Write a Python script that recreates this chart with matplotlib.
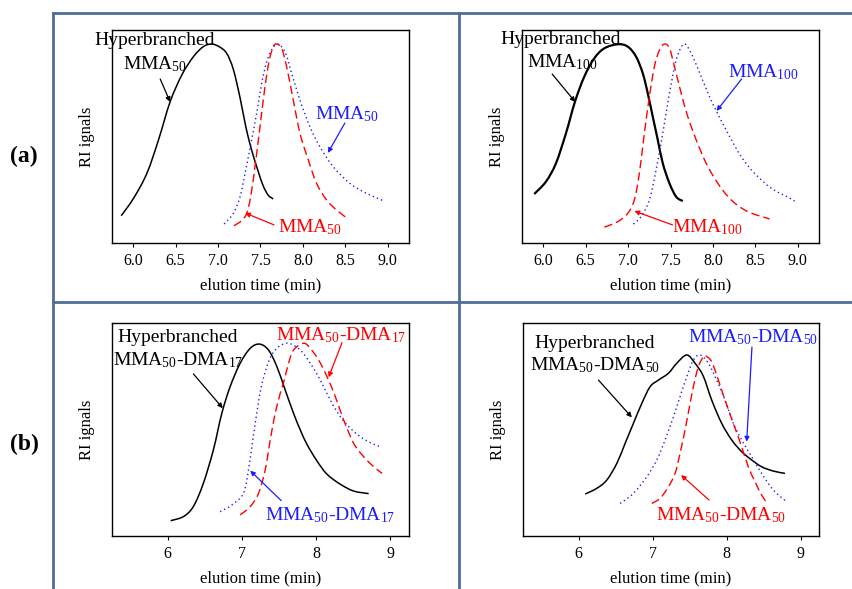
import matplotlib
matplotlib.use("Agg")
import matplotlib.pyplot as plt
from matplotlib.lines import Line2D
from matplotlib.path import Path
from matplotlib.patches import PathPatch

plt.rcParams["font.family"] = ["Liberation Serif", "DejaVu Serif"]
plt.rcParams["mathtext.fontset"] = "custom"
plt.rcParams["mathtext.rm"] = "Liberation Serif"
plt.rcParams["mathtext.it"] = "Liberation Serif:italic"
plt.rcParams["mathtext.bf"] = "Liberation Serif:bold"

# ---------------- data: elution time (min) vs. normalised RI signal ----------------
# (a) left: MMA50
a1_hb_t = [5.859, 6.004, 6.161, 6.298, 6.435, 6.573, 6.710, 6.827, 6.926, 7.020,
           7.102, 7.180, 7.260, 7.330, 7.400, 7.470, 7.530, 7.590, 7.650]
a1_hb_s = [0.128, 0.210, 0.327, 0.484, 0.663, 0.789, 0.875, 0.922, 0.934, 0.920,
           0.890, 0.815, 0.680, 0.540, 0.430, 0.340, 0.270, 0.225, 0.207]
a1_dot_t = [7.071, 7.180, 7.259, 7.318, 7.376, 7.455, 7.514, 7.573, 7.631, 7.698,
            7.788, 7.867, 7.965, 8.082, 8.200, 8.357, 8.553, 8.749, 8.945]
a1_dot_s = [0.089, 0.139, 0.217, 0.327, 0.444, 0.609, 0.750, 0.851, 0.906, 0.934,
            0.898, 0.797, 0.671, 0.546, 0.452, 0.358, 0.280, 0.233, 0.199]
a1_dash_t = [7.188, 7.278, 7.337, 7.384, 7.435, 7.494, 7.553, 7.604, 7.651, 7.690,
             7.749, 7.808, 7.886, 7.965, 8.063, 8.161, 8.279, 8.396, 8.533]
a1_dash_s = [0.081, 0.105, 0.139, 0.217, 0.358, 0.546, 0.734, 0.859, 0.922, 0.934,
             0.914, 0.828, 0.671, 0.515, 0.390, 0.280, 0.202, 0.155, 0.113]

# (a) right: MMA100
a2_hb_t = [5.894, 6.032, 6.150, 6.268, 6.374, 6.484, 6.602, 6.720, 6.878, 6.996,
           7.094, 7.173, 7.232, 7.291, 7.350, 7.409, 7.488, 7.567, 7.645]
a2_hb_s = [0.230, 0.288, 0.374, 0.515, 0.663, 0.781, 0.867, 0.914, 0.933, 0.922,
           0.875, 0.797, 0.703, 0.593, 0.484, 0.374, 0.280, 0.217, 0.197]
a2_dash_t = [6.720, 6.878, 6.996, 7.074, 7.133, 7.192, 7.251, 7.310, 7.370, 7.429,
             7.488, 7.547, 7.626, 7.704, 7.803, 7.921, 8.058, 8.216, 8.412, 8.668]
a2_dash_s = [0.074, 0.100, 0.139, 0.202, 0.327, 0.515, 0.687, 0.828, 0.906, 0.934,
             0.914, 0.828, 0.703, 0.593, 0.484, 0.374, 0.280, 0.202, 0.147, 0.113]
a2_dot_t = [7.063, 7.153, 7.251, 7.330, 7.409, 7.488, 7.567, 7.657, 7.744, 7.862,
            7.960, 8.039, 8.176, 8.334, 8.491, 8.688, 8.884, 8.963]
a2_dot_s = [0.089, 0.124, 0.202, 0.343, 0.515, 0.703, 0.859, 0.934, 0.890, 0.781,
            0.687, 0.621, 0.515, 0.405, 0.327, 0.257, 0.215, 0.197]

# (b) left: MMA50-DMA17
b1_hb_t = [6.040, 6.211, 6.345, 6.480, 6.615, 6.729, 6.841, 6.976, 7.111, 7.236,
           7.358, 7.471, 7.583, 7.695, 7.786, 7.876, 8.011, 8.146, 8.325, 8.505, 8.707]
b1_hb_s = [0.072, 0.091, 0.138, 0.247, 0.404, 0.576, 0.701, 0.811, 0.881, 0.901,
           0.873, 0.795, 0.685, 0.576, 0.498, 0.430, 0.352, 0.290, 0.243, 0.211, 0.199]
b1_dot_t = [6.706, 6.864, 7.020, 7.088, 7.150, 7.210, 7.260, 7.330, 7.400, 7.500,
            7.628, 7.785, 7.920, 8.055, 8.190, 8.325, 8.460, 8.595, 8.730, 8.865]
b1_dot_s = [0.114, 0.146, 0.200, 0.310, 0.460, 0.600, 0.700, 0.790, 0.850, 0.890,
            0.905, 0.873, 0.811, 0.732, 0.638, 0.560, 0.506, 0.466, 0.438, 0.419]
b1_dash_t = [6.976, 7.111, 7.223, 7.313, 7.381, 7.448, 7.516, 7.570, 7.628, 7.695,
             7.830, 7.920, 8.033, 8.146, 8.258, 8.370, 8.505, 8.640, 8.775, 8.888]
b1_dash_s = [0.099, 0.138, 0.200, 0.310, 0.451, 0.576, 0.670, 0.732, 0.811, 0.873,
             0.905, 0.881, 0.826, 0.748, 0.654, 0.545, 0.435, 0.372, 0.325, 0.294]

# (b) right: MMA50-DMA50
b2_hb_t = [6.090, 6.248, 6.383, 6.518, 6.630, 6.742, 6.856, 6.968, 7.080, 7.215,
           7.328, 7.463, 7.575, 7.687, 7.800, 7.935, 8.070, 8.205, 8.340, 8.475,
           8.632, 8.790]
b2_hb_s = [0.197, 0.224, 0.263, 0.341, 0.435, 0.529, 0.623, 0.701, 0.732, 0.764,
           0.811, 0.850, 0.811, 0.750, 0.638, 0.529, 0.451, 0.396, 0.357, 0.325,
           0.305, 0.294]
b2_dot_t = [6.563, 6.742, 6.923, 7.058, 7.170, 7.283, 7.372, 7.463, 7.553, 7.642,
            7.755, 7.867, 7.980, 8.092, 8.205, 8.340, 8.475, 8.632, 8.812]
b2_dot_s = [0.153, 0.200, 0.278, 0.357, 0.451, 0.560, 0.654, 0.748, 0.826, 0.850,
            0.811, 0.732, 0.638, 0.529, 0.451, 0.372, 0.294, 0.216, 0.161]
b2_dash_t = [6.990, 7.103, 7.215, 7.305, 7.372, 7.440, 7.508, 7.562, 7.620, 7.687,
             7.720, 7.800, 7.890, 7.980, 8.092, 8.205, 8.295, 8.385, 8.475, 8.551]
b2_dash_s = [0.153, 0.177, 0.231, 0.294, 0.388, 0.498, 0.623, 0.717, 0.795, 0.842,
             0.845, 0.818, 0.732, 0.638, 0.529, 0.419, 0.325, 0.255, 0.192, 0.153]

ticks_fine = [6.0, 6.5, 7.0, 7.5, 8.0, 8.5, 9.0]
ticks_fine_labels = ["6.0", "6.5", "7.0", "7.5", "8.0", "8.5", "9.0"]
ticks_coarse = [6, 7, 8, 9]
ticks_coarse_labels = ["6", "7", "8", "9"]

# ---------------- styles ----------------
BLACK = "black"
RED = "#FF0000"
BLUE = "#1C1CFF"
BORDER = "#4F6D99"

W, H = 852, 589
fig = plt.figure(figsize=(W / 100, H / 100), dpi=100)
fig.patch.set_facecolor("white")


def axes_px(left, top, right, bottom):
    return fig.add_axes([left / W, 1 - bottom / H, (right - left) / W, (bottom - top) / H])


def smooth_trace(ax, t, s, **style):
    """Draw a trace through every measured point as a smooth cubic Bezier path."""
    pts = list(zip(t, s))
    n = len(pts)
    verts = [pts[0]]
    codes = [Path.MOVETO]
    for i in range(n - 1):
        p0 = pts[i - 1] if i > 0 else pts[i]
        p1 = pts[i]
        p2 = pts[i + 1]
        p3 = pts[i + 2] if i + 2 < n else pts[i + 1]
        c1 = (p1[0] + (p2[0] - p0[0]) / 6, p1[1] + (p2[1] - p0[1]) / 6)
        c2 = (p2[0] - (p3[0] - p1[0]) / 6, p2[1] - (p3[1] - p1[1]) / 6)
        verts += [c1, c2, p2]
        codes += [Path.CURVE4] * 3
    patch = PathPatch(Path(verts, codes), fill=False, capstyle="butt", **style)
    ax.add_patch(patch)


def draw_panel(ax, curves, xlim, ticks, labels, notes, hb_lw=1.1):
    for (t, s, kind) in curves:
        if kind == "hb":
            smooth_trace(ax, t, s, edgecolor=BLACK, lw=hb_lw)
        elif kind == "dash":
            smooth_trace(ax, t, s, edgecolor=RED, lw=1.0, linestyle=(0, (6, 3)))
        else:
            smooth_trace(ax, t, s, edgecolor=BLUE, lw=1.0, linestyle=(0, (1, 2.2)))
    ax.set_xlim(*xlim)
    ax.set_ylim(0, 1)
    ax.set_xticks(ticks)
    ax.set_xticklabels(labels)
    ax.set_yticks([])
    ax.tick_params(axis="x", direction="out", length=3, width=0.8,
                   labelsize=11.5, pad=4.5)
    for sp in ax.spines.values():
        sp.set_linewidth(1.0)
        sp.set_color("black")
    ax.set_xlabel("elution time (min)", fontsize=12, labelpad=6)
    ax.set_ylabel("RI ignals", fontsize=12)
    ax.yaxis.set_label_coords(-0.057, 0.5)
    for (txt, pos, col, tail, tip) in notes:
        ax.text(pos[0], pos[1], txt, color=col, fontsize=14,
                ha="left", va="baseline", clip_on=False)
        if tail is not None:
            ax.annotate("", xy=tip, xytext=tail,
                        arrowprops=dict(arrowstyle="-|>", color=col, lw=0.9,
                                        mutation_scale=7, shrinkA=0, shrinkB=0))


ax1 = axes_px(112, 30, 409, 243)
draw_panel(ax1,
           [(a1_hb_t, a1_hb_s, "hb"), (a1_dot_t, a1_dot_s, "dot"), (a1_dash_t, a1_dash_s, "dash")],
           (5.75, 9.25), ticks_fine, ticks_fine_labels,
           [("Hyperbranched", (5.54, 0.93), BLACK, None, None),
            (r"MMA$_{50}$", (5.88, 0.817), BLACK, (6.318, 0.770), (6.435, 0.662)),
            (r"MMA$_{50}$", (8.14, 0.582), BLUE, (8.494, 0.563), (8.294, 0.423)),
            (r"MMA$_{50}$", (7.706, 0.052), RED, (7.659, 0.085), (7.318, 0.141))])

ax2 = axes_px(522, 30, 819, 243)
draw_panel(ax2,
           [(a2_hb_t, a2_hb_s, "hb"), (a2_dot_t, a2_dot_s, "dot"), (a2_dash_t, a2_dash_s, "dash")],
           (5.75, 9.25), ticks_fine, ticks_fine_labels,
           [("Hyperbranched", (5.49, 0.934), BLACK, None, None),
            (r"MMA$_{100}$", (5.81, 0.826), BLACK, (6.106, 0.793), (6.378, 0.662)),
            (r"MMA$_{100}$", (8.172, 0.779), BLUE, (8.338, 0.770), (8.043, 0.620)),
            (r"MMA$_{100}$", (7.523, 0.052), RED, (7.523, 0.085), (7.074, 0.150))],
           hb_lw=1.6)

ax3 = axes_px(112, 323, 409, 536)
draw_panel(ax3,
           [(b1_hb_t, b1_hb_s, "hb"), (b1_dot_t, b1_dot_s, "dot"), (b1_dash_t, b1_dash_s, "dash")],
           (5.25, 9.25), ticks_coarse, ticks_coarse_labels,
           [("Hyperbranched", (5.316, 0.912), BLACK, None, None),
            (r"MMA$_{50}$-DMA$_{17}$", (5.258, 0.80), BLACK, (6.346, 0.761), (6.742, 0.600)),
            (r"MMA$_{50}$-DMA$_{17}$", (7.462, 0.917), RED, (8.348, 0.908), (8.167, 0.745)),
            (r"MMA$_{50}$-DMA$_{17}$", (7.313, 0.072), BLUE, (7.529, 0.166), (7.111, 0.307))])

ax4 = axes_px(523, 323, 819, 536)
draw_panel(ax4,
           [(b2_hb_t, b2_hb_s, "hb"), (b2_dot_t, b2_dot_s, "dot"), (b2_dash_t, b2_dash_s, "dash")],
           (5.25, 9.25), ticks_coarse, ticks_coarse_labels,
           [("Hyperbranched", (5.402, 0.881), BLACK, None, None),
            (r"MMA$_{50}$-DMA$_{50}$", (5.348, 0.776), BLACK, (6.27, 0.732), (6.721, 0.557)),
            (r"MMA$_{50}$-DMA$_{50}$", (7.48, 0.909), BLUE, (8.344, 0.887), (8.273, 0.443)),
            (r"MMA$_{50}$-DMA$_{50}$", (7.049, 0.072), RED, (7.764, 0.169), (7.386, 0.286))])

# table grid around the four panels
def border(x0, y0, x1, y1):
    fig.add_artist(Line2D([x0 / W, x1 / W], [1 - y0 / H, 1 - y1 / H],
                          transform=fig.transFigure, color=BORDER, lw=2.0))

border(53, 12.5, W, 12.5)
border(53, 12.5, 53, H)
border(459, 12.5, 459, H)
border(53, 302, W, 302)

fig.text(24 / W, 1 - 156 / H, "(a)", ha="center", va="center",
         fontsize=17, fontweight="bold")
fig.text(24 / W, 1 - 444 / H, "(b)", ha="center", va="center",
         fontsize=17, fontweight="bold")

fig.savefig("out.png", dpi=100, facecolor="white")
